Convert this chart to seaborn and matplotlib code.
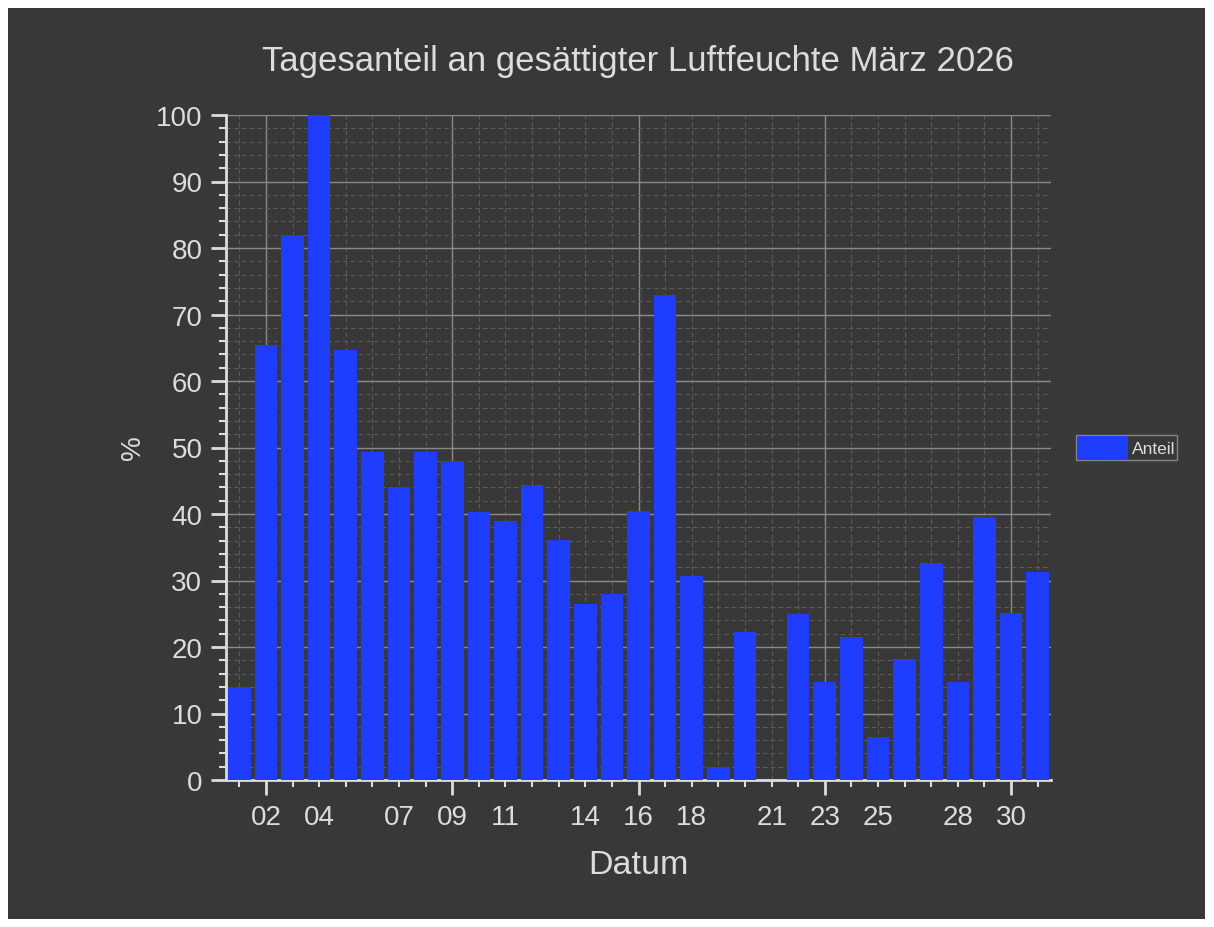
import numpy as np
import pandas as pd
import seaborn as sns
import matplotlib.pyplot as plt
from matplotlib.patches import Rectangle
from matplotlib.ticker import FixedLocator, MultipleLocator

# === Data ===
days = list(range(1, 32))
anteil = [14.0, 65.4, 82.0, 100.0, 64.6, 49.3, 44.0, 49.3, 48.0, 40.3,
          39.0, 44.4, 36.1, 26.5, 27.9, 40.4, 73.0, 30.7, 2.0, 22.3,
          0.0, 25.0, 14.7, 21.5, 6.4, 18.2, 32.6, 14.7, 39.6, 25.1, 31.3]
label_days = [2, 4, 7, 9, 11, 14, 16, 18, 21, 23, 25, 28, 30]
major_days = [2, 9, 16, 23, 30]

df = pd.DataFrame({"Datum": days, "Anteil": anteil})

# === Style ===
bg = "#383838"
fg = "#dcdcdc"
bar_color = "#1f3dff"

sns.set_theme(style="dark")
plt.rcParams["font.family"] = ["Liberation Sans", "DejaVu Sans"]

fig = plt.figure(figsize=(12.14, 9.28), dpi=100, facecolor="white")
fig.patches.append(Rectangle((8 / 1214, 8 / 928), 1 - 17 / 1214, 1 - 17 / 928,
                             transform=fig.transFigure, facecolor=bg,
                             edgecolor="none", zorder=-10))
ax = fig.add_axes([226 / 1214, 1 - 781 / 928, 825 / 1214, 665 / 928])
ax.set_facecolor(bg)

sns.barplot(data=df, x="Datum", y="Anteil", native_scale=True,
            color=bar_color, saturation=1, width=0.85, ax=ax,
            label="Anteil", linewidth=0, zorder=3)

ax.set_xlim(0.5, 31.5)
ax.set_ylim(0, 100)

# === Ticks and grid ===
ax.xaxis.set_major_locator(FixedLocator(major_days))
ax.xaxis.set_minor_locator(FixedLocator(days))
ax.set_xticklabels([])
for d in label_days:
    ax.text(d, -3.6, f"{d:02d}", ha="center", va="top", color=fg, fontsize=20)
ax.yaxis.set_major_locator(MultipleLocator(10))
ax.yaxis.set_minor_locator(MultipleLocator(2))
ax.tick_params(axis="both", which="major", colors=fg, labelsize=20,
               length=11, width=2, direction="out", pad=6)
ax.tick_params(axis="both", which="minor", colors=fg, length=5, width=1.5,
               direction="out")
ax.tick_params(axis="x", which="both", bottom=True)
ax.tick_params(axis="y", which="both", left=True)

ax.grid(True, which="major", color="#8a8a8a", linewidth=1, zorder=0)
ax.grid(True, which="minor", color="#5c5c5c", linewidth=0.8,
        linestyle=(0, (4, 3)), zorder=0)
ax.set_axisbelow(True)

for side in ["top", "right"]:
    ax.spines[side].set_visible(False)
for side in ["left", "bottom"]:
    ax.spines[side].set_visible(True)
    ax.spines[side].set_color(fg)
    ax.spines[side].set_linewidth(2)

# === Labels ===
fig.text(638 / 1214, 1 - 62 / 928,
         "Tagesanteil an gesättigter Luftfeuchte März 2026",
         ha="center", va="center", color=fg, fontsize=25)
fig.text(638 / 1214, 1 - 866 / 928, "Datum", ha="center", va="center",
         color=fg, fontsize=24.5)
fig.text(133 / 1214, 1 - 448 / 928, "%", ha="center", va="center",
         color=fg, fontsize=20, rotation=90)
ax.set_xlabel("")
ax.set_ylabel("")

leg = ax.legend(loc="center left", bbox_to_anchor=(1.03, 0.5), fontsize=12.5,
                frameon=True, fancybox=False, borderpad=0.1,
                handlelength=2.9, handleheight=1.6, handletextpad=0.25,
                borderaxespad=0)
leg.get_frame().set_facecolor(bg)
leg.get_frame().set_edgecolor("#9a9a9a")
leg.get_frame().set_linewidth(1)
for t in leg.get_texts():
    t.set_color(fg)

fig.savefig("out.png", dpi=100, facecolor=fig.get_facecolor())
